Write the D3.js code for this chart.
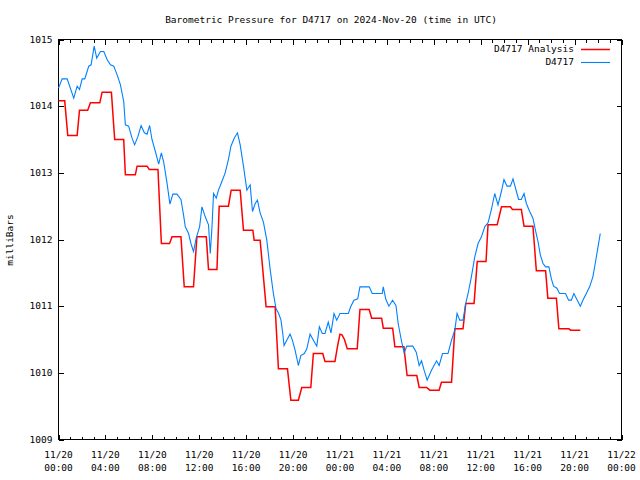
<!DOCTYPE html>
<html>
<head>
<meta charset="utf-8">
<script src="https://cdn.jsdelivr.net/npm/d3@7/dist/d3.min.js"></script>
<style>
  html, body { margin: 0; padding: 0; background: #fff; }
  svg text { font-family: "DejaVu Sans Mono", "Liberation Mono", monospace; font-size: 9.5px; fill: #000; }
</style>
</head>
<body>
<svg id="chart" width="640" height="480"></svg>
<script>
// ---- data (hours after 2024-11-20 00:00 UTC, pressure in mb) ----
const blueHours = [0.0,0.31,0.74,1.30,1.59,1.79,2.02,2.24,2.44,2.58,2.78,2.92,3.04,3.26,3.57,3.86,4.14,4.43,4.71,5.0,5.28,5.56,5.70,5.98,6.27,6.49,6.78,7.04,7.32,7.55,7.77,7.97,8.26,8.54,8.77,8.96,9.25,9.5,9.75,10.1,10.44,10.66,10.81,11.09,11.29,11.51,11.74,12.03,12.23,12.51,12.79,12.94,13.08,13.22,13.45,13.64,13.93,14.21,14.49,14.70,14.98,15.26,15.49,15.77,16.06,16.34,16.54,16.77,16.96,17.19,17.47,17.76,18.04,18.32,18.55,18.77,18.97,19.12,19.23,19.46,19.74,19.94,20.17,20.45,20.66,20.96,21.17,21.45,21.73,22.02,22.24,22.49,22.72,23.0,23.23,23.49,23.72,24.0,24.71,24.91,25.19,25.51,25.70,26.49,26.75,27.6,27.69,27.91,28.17,28.48,28.77,28.96,29.25,29.47,29.7,30.21,30.5,30.75,30.95,31.17,31.43,31.8,32.23,32.45,32.74,33.21,33.51,33.79,33.98,34.21,34.49,34.72,34.92,35.2,35.49,35.77,36.06,36.34,36.62,36.91,37.19,37.47,37.76,37.98,38.24,38.53,38.75,39.04,39.23,39.46,39.69,39.89,40.17,40.45,40.66,40.88,41.08,41.31,41.53,41.81,42.02,42.21,42.49,42.72,43.23,43.49,43.72,43.94,44.23,44.49,44.71,45.0,45.28,45.56,45.79,45.98,46.19];
const blueValues = [1014.27,1014.41,1014.41,1014.12,1014.30,1014.25,1014.41,1014.41,1014.52,1014.60,1014.62,1014.77,1014.90,1014.72,1014.82,1014.82,1014.70,1014.62,1014.60,1014.47,1014.32,1014.07,1013.72,1013.70,1013.52,1013.42,1013.55,1013.71,1013.60,1013.58,1013.71,1013.50,1013.32,1013.13,1013.30,1013.17,1012.85,1012.53,1012.68,1012.68,1012.60,1012.37,1012.19,1012.09,1011.94,1011.82,1012.02,1012.19,1012.49,1012.34,1012.22,1011.79,1012.17,1012.69,1012.62,1012.74,1012.87,1013.0,1013.20,1013.40,1013.52,1013.60,1013.42,1013.10,1012.74,1012.82,1012.42,1012.54,1012.59,1012.40,1012.26,1011.99,1011.56,1011.19,1010.96,1010.89,1010.79,1010.59,1010.41,1010.49,1010.58,1010.49,1010.34,1010.11,1010.26,1010.29,1010.36,1010.58,1010.49,1010.40,1010.69,1010.59,1010.59,1010.76,1010.60,1010.89,1010.79,1010.89,1010.89,1010.99,1011.09,1011.11,1011.29,1011.29,1011.19,1011.19,1011.29,1011.10,1011.0,1011.09,1011.01,1010.74,1010.47,1010.30,1010.40,1010.40,1010.31,1010.11,1010.18,1010.04,1009.89,1010.04,1010.18,1010.11,1010.29,1010.29,1010.49,1010.64,1010.89,1010.79,1010.79,1011.04,1011.19,1011.44,1011.74,1011.94,1012.04,1012.19,1012.25,1012.45,1012.69,1012.52,1012.72,1012.90,1012.80,1012.80,1012.91,1012.72,1012.60,1012.60,1012.69,1012.54,1012.42,1012.32,1012.14,1011.97,1011.77,1011.64,1011.59,1011.59,1011.41,1011.30,1011.27,1011.19,1011.19,1011.09,1011.09,1011.19,1011.09,1011.00,1011.09,1011.19,1011.29,1011.44,1011.67,1011.87,1012.09];

const redHours = [0.0,0.53,0.79,1.59,1.79,2.49,2.72,3.52,3.72,4.51,4.79,5.56,5.70,6.55,6.70,7.55,7.74,8.48,8.77,9.47,9.68,10.44,10.72,11.51,11.80,12.60,12.79,13.51,13.70,14.49,14.72,15.49,15.77,16.57,16.68,17.19,17.70,18.47,18.75,19.52,19.81,20.45,20.74,21.51,21.73,22.53,22.72,23.57,23.79,24.00,24.17,24.38,24.62,25.47,25.70,26.49,26.70,27.55,27.69,28.49,28.68,29.45,29.72,30.55,30.75,31.38,31.66,32.45,32.65,33.51,33.79,34.49,34.72,35.43,35.70,36.45,36.62,37.40,37.77,38.53,38.70,39.46,39.69,40.45,40.74,41.53,41.72,42.45,42.66,43.51,43.66,44.49];
const redValues = [1014.08,1014.08,1013.56,1013.56,1013.94,1013.94,1014.05,1014.05,1014.21,1014.21,1013.50,1013.50,1012.97,1012.97,1013.10,1013.10,1013.05,1013.05,1011.94,1011.94,1012.04,1012.04,1011.29,1011.29,1012.04,1012.04,1011.55,1011.55,1012.50,1012.50,1012.74,1012.74,1012.14,1012.14,1011.99,1011.99,1010.99,1010.99,1010.06,1010.06,1009.59,1009.59,1009.78,1009.78,1010.29,1010.29,1010.17,1010.17,1010.40,1010.58,1010.57,1010.50,1010.36,1010.36,1010.95,1010.95,1010.82,1010.82,1010.67,1010.67,1010.39,1010.39,1009.96,1009.96,1009.78,1009.78,1009.74,1009.74,1009.86,1009.86,1010.66,1010.66,1011.04,1011.04,1011.67,1011.67,1012.22,1012.22,1012.49,1012.49,1012.45,1012.45,1012.20,1012.20,1011.53,1011.53,1011.12,1011.12,1010.66,1010.66,1010.64,1010.64];

const xTickHours = [0,4,8,12,16,20,24,28,32,36,40,44,48];
const xTickDates = ["11/20","11/20","11/20","11/20","11/20","11/20","11/21","11/21","11/21","11/21","11/21","11/21","11/22"];
const xTickTimes = ["00:00","04:00","08:00","12:00","16:00","20:00","00:00","04:00","08:00","12:00","16:00","20:00","00:00"];
const yTicks = [1009,1010,1011,1012,1013,1014,1015];
const seriesNames = ["D4717 Analysis","D4717"];
const seriesColors = ["#ff0000","#0080ff"];
const titleText = "Barometric Pressure for D4717 on 2024-Nov-20 (time in UTC)";
const yLabelText = "milliBars";

// ---- layout ----
const svg = d3.select("#chart");
const L = 58.5, R = 621.5, T = 39.5, B = 439.5;
const x = d3.scaleLinear().domain([0, 48]).range([L, R]);
const y = d3.scaleLinear().domain([1009, 1015]).range([B, T]);

// frame
svg.append("rect").attr("x", L).attr("y", T).attr("width", R - L).attr("height", B - T)
  .attr("fill", "none").attr("stroke", "#000").attr("stroke-width", 1);

// ticks via axes (inward)
const minorHours = d3.range(0, 49, 1);
function tickAxis(axisGen, transform) {
  const g = svg.append("g").attr("transform", transform).call(axisGen);
  g.select(".domain").remove();
  g.selectAll("text").remove();
  g.selectAll("line").attr("stroke", "#000").attr("shape-rendering", "crispEdges");
  return g;
}
tickAxis(d3.axisBottom(x).tickValues(minorHours).tickSize(-3), `translate(0,${B})`);
tickAxis(d3.axisTop(x).tickValues(minorHours).tickSize(-3), `translate(0,${T})`);
tickAxis(d3.axisBottom(x).tickValues(xTickHours).tickSize(-5), `translate(0,${B})`);
tickAxis(d3.axisTop(x).tickValues(xTickHours).tickSize(-5), `translate(0,${T})`);
tickAxis(d3.axisLeft(y).tickValues(yTicks).tickSize(-5), `translate(${L},0)`);
tickAxis(d3.axisRight(y).tickValues(yTicks).tickSize(-5), `translate(${R},0)`);

// y labels
svg.append("g").selectAll("text").data(yTicks).join("text")
  .attr("x", L - 6).attr("y", d => y(d)).attr("dy", "0.35em")
  .attr("text-anchor", "end").text(d => d);

// x labels (two lines)
const xl = svg.append("g").selectAll("text").data(xTickHours).join("text")
  .attr("text-anchor", "middle");
xl.append("tspan").attr("x", d => x(d)).attr("y", B + 18).text((d, i) => xTickDates[i]);
xl.append("tspan").attr("x", d => x(d)).attr("y", B + 31).text((d, i) => xTickTimes[i]);

// title and y label
svg.append("text").attr("x", 331).attr("y", 23).attr("text-anchor", "middle").text(titleText);
svg.append("text").attr("transform", "translate(13,240) rotate(-90)")
  .attr("text-anchor", "middle").text(yLabelText);

// lines
const line = d3.line().x(d => x(d[0])).y(d => y(d[1]));
const redData = redHours.map((h, i) => [h, redValues[i]]);
const blueData = blueHours.map((h, i) => [h, blueValues[i]]);
svg.append("path").datum(redData).attr("d", line)
  .attr("fill", "none").attr("stroke", seriesColors[0]).attr("stroke-width", 1.5);
svg.append("path").datum(blueData).attr("d", line)
  .attr("fill", "none").attr("stroke", seriesColors[1]).attr("stroke-width", 1.1);

// legend
const legY = [49, 62];
seriesNames.forEach((n, i) => {
  svg.append("text").attr("x", 574).attr("y", legY[i]).attr("dy", "0.35em")
    .attr("text-anchor", "end").text(n);
  svg.append("line").attr("x1", 581).attr("x2", 610).attr("y1", legY[i] + 0.5).attr("y2", legY[i] + 0.5)
    .attr("stroke", seriesColors[i]).attr("stroke-width", i === 0 ? 1.5 : 1.1);
});
</script>
</body>
</html>
